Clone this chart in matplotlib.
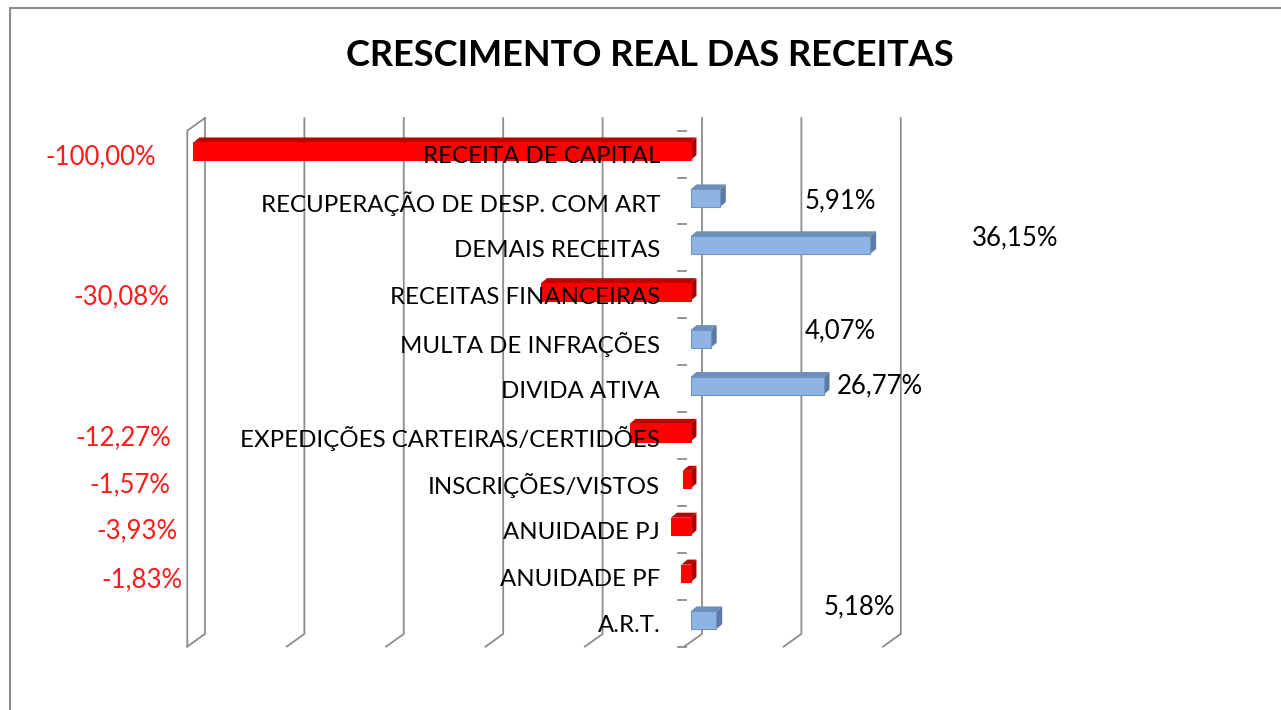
import matplotlib
matplotlib.use("Agg")
import matplotlib.pyplot as plt
from matplotlib.patches import Polygon

plt.rcParams['font.family'] = ['Lato', 'DejaVu Sans']

# ---- data (top to bottom) ----
categories = [
    "RECEITA DE CAPITAL",
    "RECUPERAÇÃO DE DESP. COM ART",
    "DEMAIS RECEITAS",
    "RECEITAS FINANCEIRAS",
    "MULTA DE INFRAÇÕES",
    "DIVIDA ATIVA",
    "EXPEDIÇÕES CARTEIRAS/CERTIDÕES",
    "INSCRIÇÕES/VISTOS",
    "ANUIDADE PJ",
    "ANUIDADE PF",
    "A.R.T.",
]
growth = [-100.00, 5.91, 36.15, -30.08, 4.07, 26.77, -12.27, -1.57, -3.93, -1.83, 5.18]
value_labels = ["-100,00%", "5,91%", "36,15%", "-30,08%", "4,07%", "26,77%",
                "-12,27%", "-1,57%", "-3,93%", "-1,83%", "5,18%"]

# label placement (moved by hand in the original sheet)
label_x = [-118.6, 23.0, 56.6, -114.5, 23.0, 29.5, -114.1, -112.8, -111.4, -110.4, 26.7]
label_dy = [0.06, -0.01, -0.22, 0.04, -0.24, -0.05, 0.04, 0.04, 0.04, 0.07, -0.35]

ticks = [-100, -80, -60, -40, -20, 0, 20, 40]

# ---- geometry ----
W, H = 1281, 710
PX_PER_PCT = 4.97
X0_PX = 690.5
ROW_PX = 46.9
Y0_PX = 154.15

fig = plt.figure(figsize=(W / 100, H / 100), dpi=100)
ax = fig.add_axes([0, 0, 1, 1])
ax.set_xlim(-X0_PX / PX_PER_PCT, (W - X0_PX) / PX_PER_PCT)
ax.set_ylim((H - Y0_PX) / ROW_PX, -Y0_PX / ROW_PX)
ax.axis("off")

grid_c = "#8c8c8c"
back_dx, back_dy = 2.31, -0.27
front_dx = -1.25
top, bot = -0.5, len(categories) - 0.5

# ---- back wall gridlines with floor slant ----
for v in ticks:
    ax.plot([v + back_dx, v + back_dx, v + front_dx],
            [top + back_dy, bot + back_dy, bot],
            color=grid_c, lw=1.3, zorder=1, solid_joinstyle="miter")
# left side wall
v = ticks[0]
ax.plot([v + back_dx, v + front_dx, v + front_dx],
        [top + back_dy, top, bot], color=grid_c, lw=1.3, zorder=1)

# ---- axis ticks ----
for k in range(len(categories) + 1):
    ax.plot([-2.6, -0.9], [k - 0.5, k - 0.5], color=grid_c, lw=1.3, zorder=1)

# ---- 3D-ish bars ----
bh = 0.377
boff = -0.06
ddx, ddy = 1.2, -0.107
ypos = list(range(len(categories)))
colors = ["#ff0000" if g < 0 else "#8db4e2" for g in growth]
edges = ["#ff0000" if g < 0 else "#6f93c4" for g in growth]
tops = ["#c00000" if g < 0 else "#6f8fbb" for g in growth]
sides = ["#a80000" if g < 0 else "#5b7ba6" for g in growth]

ax.barh([y + boff for y in ypos], growth, height=bh, color=colors,
        edgecolor=edges, linewidth=0.8, zorder=3)
for y, g, tc, sc in zip(ypos, growth, tops, sides):
    x0, x1 = min(0, g), max(0, g)
    yt = y + boff - bh / 2
    yb = y + boff + bh / 2
    ax.add_patch(Polygon([(x0, yt), (x1, yt), (x1 + ddx, yt + ddy), (x0 + ddx, yt + ddy)],
                         closed=True, facecolor=tc, edgecolor="none", zorder=2.9))
    ax.add_patch(Polygon([(x1, yt), (x1, yb), (x1 + ddx, yb + ddy), (x1 + ddx, yt + ddy)],
                         closed=True, facecolor=sc, edgecolor="none", zorder=2.9))

# ---- category labels ----
for y, name in zip(ypos, categories):
    ax.text(-6.1, y + 0.06, name, ha="right", va="center", fontsize=17.3,
            color="black", zorder=5)

# ---- value labels ----
for y, g, lab, lx, dy in zip(ypos, growth, value_labels, label_x, label_dy):
    if g < 0:
        ax.text(lx, y + dy, lab, ha="center", va="center", fontsize=18.5,
                color="#ff1a1a", zorder=5)
    else:
        ax.text(lx, y + dy, lab, ha="left", va="center", fontsize=18.5,
                color="black", zorder=5)

# ---- title ----
fig.text(650 / W, 1 - 55 / H, "CRESCIMENTO REAL DAS RECEITAS", ha="center",
         va="center", fontsize=26, fontweight="bold")

# ---- chart frame ----
fig.add_artist(plt.Line2D([10 / W, 10 / W, 1], [0, 1 - 8 / H, 1 - 8 / H],
                          color="#8c8c8c", lw=1.5, transform=fig.transFigure))

fig.savefig("out.png", dpi=100)
